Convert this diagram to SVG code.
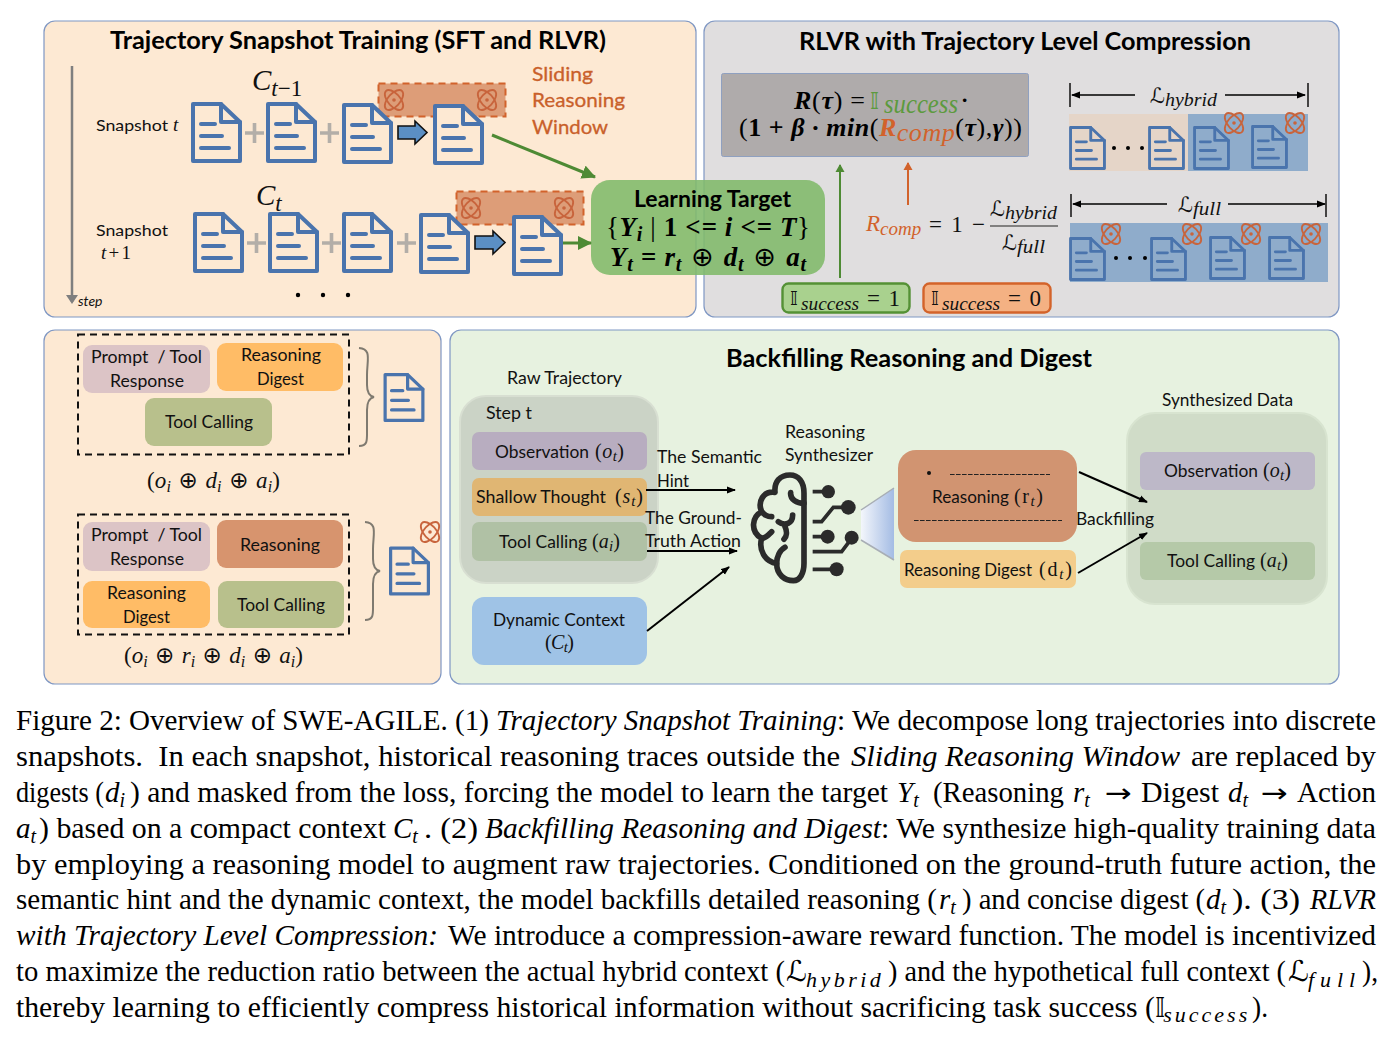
<svg xmlns="http://www.w3.org/2000/svg" width="1395" height="1042" viewBox="0 0 1395 1042">
<style>
text{white-space:pre}
.panel{stroke:#7f97c3;stroke-width:1.2}
.peach{fill:#fde9d3}
.ui{font-family:Lato,"Open Sans",sans-serif;fill:#111;font-size:17.5px}
.title{font-family:Lato,"Open Sans",sans-serif;font-weight:700;fill:#000;font-size:24px}
.m{font-family:"Liberation Serif","DejaVu Serif",serif;font-style:italic;fill:#111}
.mb{font-family:"Liberation Serif","DejaVu Serif",serif;font-style:italic;font-weight:700;fill:#000}
.mr{font-family:"DejaVu Sans",sans-serif;fill:#111}
.up{font-style:normal}
.op{font-family:"DejaVu Sans",sans-serif;font-style:normal;font-weight:400}
.cap{font-family:"Liberation Serif","DejaVu Serif",serif;font-size:29px;fill:#000}
.capi{font-family:"Liberation Serif","DejaVu Serif",serif;font-size:29px;font-style:italic;fill:#000}
.capm{font-family:"DejaVu Sans",sans-serif;font-size:26px;fill:#000}
.caps{font-family:"Liberation Serif",serif;font-size:20px;font-style:italic;fill:#000}
.capl{font-family:"Liberation Serif",serif;font-size:22px;font-style:italic;fill:#000}
.doc{fill:none;stroke:#4a74ad;stroke-width:4;stroke-linejoin:round;stroke-linecap:round}
.blk{stroke:#000;stroke-width:2;fill:none}
.thin{stroke:#000;stroke-width:1.5;fill:none}
.plus{stroke:#b3aea8;stroke-width:3.6}
.atom{fill:none;stroke:#c8643c;stroke-width:2}
.brace{fill:none;stroke:#7f7a70;stroke-width:2}
.block{fill:#5b8fc4;stroke:#111;stroke-width:1.6}
.grn{stroke:#4e8a34;stroke-width:3;fill:none}
.brain{fill:none;stroke:#2b2b2b;stroke-width:17;stroke-linecap:round;stroke-linejoin:round}
</style>
<defs>
<symbol id="doc" viewBox="0 0 51 61" overflow="visible">
<path class="doc" d="M2,2H30L49,20V59H2Z"/>
<path class="doc" d="M30,2V20H49"/>
<path class="doc" d="M10,22H24M10,34H31M10,46H38"/>
</symbol>
<symbol id="docf" viewBox="0 0 51 61" overflow="visible">
<path class="doc" style="fill:#fde9d3" d="M2,2H30L49,20V59H2Z"/>
<path class="doc" d="M30,2V20H49"/>
<path class="doc" d="M10,22H24M10,34H31M10,46H38"/>
</symbol>
<g id="atom">
<g transform="scale(.92,1)">
<ellipse class="atom" rx="12.500" ry="6.500" transform="rotate(45)"/>
<ellipse class="atom" rx="12.500" ry="6.500" transform="rotate(-45)"/>
</g>
<circle r="1.800" fill="#c8643c"/>
</g>
<marker id="ah" markerWidth="10" markerHeight="8" refX="8" refY="4" orient="auto" markerUnits="userSpaceOnUse"><path d="M0,0.500L9,4L0,7.500Z" fill="#000"/></marker>
<marker id="ahg" markerWidth="15" markerHeight="14" refX="13" refY="7" orient="auto" markerUnits="userSpaceOnUse"><path d="M0,0L14,7L0,14Z" fill="#4e8a34"/></marker>
<marker id="ahgs" markerWidth="8" markerHeight="10" refX="7" refY="5" orient="auto" markerUnits="userSpaceOnUse"><path d="M0,0.500L8,5L0,9.500Z" fill="#4e8a34"/></marker>
<marker id="aho" markerWidth="8" markerHeight="10" refX="7" refY="5" orient="auto" markerUnits="userSpaceOnUse"><path d="M0,0.500L8,5L0,9.500Z" fill="#d2622b"/></marker>
<marker id="ahy" markerWidth="9" markerHeight="12" refX="7" refY="6" orient="auto" markerUnits="userSpaceOnUse"><path d="M0,0L9,6L0,12Z" fill="#7f7f7f"/></marker>
<linearGradient id="funnel" x1="0" x2="1" y1="0" y2="0"><stop offset="0" stop-color="#f3f6fb"/><stop offset="1" stop-color="#a4bce4"/></linearGradient>
</defs>

<!-- panels -->
<g id="panel-snapshot"><rect class="panel peach" x="44" y="21" width="652" height="296" rx="11"/>
<text class="title" x="110" y="49" textLength="496" lengthAdjust="spacingAndGlyphs">Trajectory Snapshot Training (SFT and RLVR)</text></g>
<g id="panel-rlvr"><rect class="panel" fill="#e0dedf" x="704" y="21" width="635" height="296" rx="11"/>
<text class="title" x="799" y="50" textLength="452" lengthAdjust="spacingAndGlyphs">RLVR with Trajectory Level Compression</text></g>
<g id="panel-context"><rect class="panel peach" x="44" y="330" width="397" height="354" rx="11"/></g>
<g id="panel-backfill"><rect class="panel" fill="#e7f2e0" x="450" y="330" width="889" height="354" rx="11"/>
<text class="title" x="726" y="367" textLength="366" lengthAdjust="spacingAndGlyphs">Backfilling Reasoning and Digest</text></g>

<!-- snapshot rows -->
<g id="window-t"><rect x="378.500" y="83.500" width="127" height="33" fill="#dd9d78" stroke="#d2622b" stroke-width="2" stroke-dasharray="7 5"/><use href="#atom" x="394" y="100"/><use href="#atom" x="487" y="100"/></g>
<g id="window-t1"><rect x="456.500" y="191.500" width="127" height="33" fill="#dd9d78" stroke="#d2622b" stroke-width="2" stroke-dasharray="7 5"/><use href="#atom" x="471" y="208"/><use href="#atom" x="564" y="208"/></g>
<g id="snapshot-t">
<text class="ui" x="96" y="131" textLength="72" lengthAdjust="spacingAndGlyphs" style="font-size:16px">Snapshot</text><text class="m" x="173" y="131" font-size="19">t</text>
<use href="#doc" x="191" y="102" width="51" height="61"/><use href="#doc" x="266" y="102" width="51" height="61"/><use href="#docf" x="342" y="103" width="51" height="61"/><use href="#docf" x="433" y="104" width="51" height="61"/>
<path class="plus" d="M245,133H264M254.500,123V143M320,133H339M329.500,123V143"/>
<path class="block" d="M398,126H415V121L427,132.500L415,144V139H398Z"/>
<text class="m" x="252" y="90" font-size="29">C<tspan font-size="23" dy="6">t</tspan><tspan class="up" font-size="23">−1</tspan></text>
</g>
<g id="snapshot-t1">
<text class="ui" x="96" y="236" textLength="72" lengthAdjust="spacingAndGlyphs" style="font-size:16px">Snapshot</text><text class="m" x="101" y="259" font-size="19" textLength="30" lengthAdjust="spacing">t<tspan class="up">+1</tspan></text>
<use href="#doc" x="193" y="212" width="51" height="61"/><use href="#doc" x="268" y="212" width="51" height="61"/><use href="#doc" x="342" y="212" width="51" height="61"/><use href="#docf" x="419" y="213" width="51" height="61"/><use href="#docf" x="512" y="215" width="51" height="61"/>
<path class="plus" d="M247,243H266M256.500,233V253M322,243H341M331.500,233V253M397,243H416M406.500,233V253"/>
<path class="block" d="M475,236H493V231L505,242.500L493,254V249H475Z"/>
<text class="m" x="256" y="205" font-size="29">C<tspan font-size="23" dy="6">t</tspan></text>
</g>
<g id="sliding-label" fill="#c9602a" stroke="#c9602a" stroke-width=".3" font-family="Lato,sans-serif" font-size="20"><text x="532" y="81" textLength="61" lengthAdjust="spacingAndGlyphs">Sliding</text><text x="532" y="107" textLength="93" lengthAdjust="spacingAndGlyphs">Reasoning</text><text x="532" y="134" textLength="76" lengthAdjust="spacingAndGlyphs">Window</text></g>
<g id="step-axis"><text x="78" y="306" font-size="14" font-style="italic" font-family="Lato,sans-serif" fill="#111">step</text></g>
<g id="ellipsis-row"><circle cx="298" cy="295" r="2.200"/><circle cx="323" cy="295" r="2.200"/><circle cx="348" cy="295" r="2.200"/></g>

<!-- learning target -->
<g id="learning-target"><rect x="591" y="180" width="234" height="95" rx="19" fill="#80b96a" fill-opacity=".88"/>
<text class="title" x="634" y="207" textLength="157" lengthAdjust="spacingAndGlyphs" style="font-size:22px">Learning Target</text>
<text class="mb" x="606" y="236" font-size="27" textLength="204" lengthAdjust="spacing"><tspan class="up" font-weight="400">{</tspan>Y<tspan font-size="20" dy="5">i</tspan><tspan class="up" font-weight="400" dy="-5"> | </tspan><tspan class="up">1</tspan> &lt;= i &lt;= T<tspan class="up" font-weight="400">}</tspan></text>
<text class="mb" x="610" y="266" font-size="27" textLength="196" lengthAdjust="spacing">Y<tspan font-size="20" dy="5">t</tspan><tspan class="up" dy="-5"> = </tspan>r<tspan font-size="20" dy="5">t</tspan><tspan class="op" dy="-5" font-size="27"> ⊕ </tspan>d<tspan font-size="20" dy="5">t</tspan><tspan class="op" dy="-5" font-size="27"> ⊕ </tspan>a<tspan font-size="20" dy="5">t</tspan></text>
</g>

<!-- reward formula -->
<g id="reward-box"><rect x="721.500" y="73.500" width="307" height="83" rx="2" fill="#afabab" stroke="#8fa0c0"/>
<text class="mb" x="794" y="109" font-size="26" textLength="71" lengthAdjust="spacing">R<tspan class="up" font-weight="400">(</tspan>τ<tspan class="up" font-weight="400">) =</tspan></text>
<text class="op" x="870" y="109" font-size="23" fill="#5c9a3e">𝕀</text>
<text class="m" x="884" y="113" font-size="27" style="fill:#5c9a3e" textLength="74" lengthAdjust="spacingAndGlyphs">success</text>
<text class="mb" x="961" y="107" font-size="22" style="font-style:normal">·</text>
<text class="mb" x="739" y="136" font-size="26" textLength="283" lengthAdjust="spacing"><tspan class="up" font-weight="400">(</tspan><tspan class="up">1 + </tspan>β ·<tspan> min</tspan><tspan class="up" font-weight="400">(</tspan><tspan style="fill:#d2622b">R</tspan><tspan style="fill:#d2622b" font-weight="400" dy="5">comp</tspan><tspan class="up" dy="-5" font-weight="400">(</tspan>τ<tspan class="up" font-weight="400">),</tspan>γ<tspan class="up" font-weight="400">))</tspan></text>
</g>
<g id="ratio-formula">
<text class="m" x="866" y="231" font-size="23" style="fill:#d2622b">R<tspan font-size="19" dy="4">comp</tspan></text>
<text class="m up" x="929" y="232" font-size="23" style="font-style:normal" textLength="56" lengthAdjust="spacing">= 1 −</text>
<path d="M990,226H1058" stroke="#222" stroke-width="1.200"/>
<text class="mr" x="990" y="216" font-size="21">ℒ</text><text class="m" x="1005" y="219" font-size="18" textLength="52" lengthAdjust="spacingAndGlyphs">hybrid</text>
<text class="mr" x="1002" y="250" font-size="21">ℒ</text><text class="m" x="1017" y="253" font-size="18" textLength="28" lengthAdjust="spacingAndGlyphs">full</text>
</g>
<g id="flag-one"><rect x="782.500" y="283.500" width="127" height="29" rx="6" fill="#a9d18e" stroke="#549135" stroke-width="2.400"/>
<text class="mr" x="790" y="305" font-size="20">𝕀</text><text class="m" x="801" y="310" font-size="19" textLength="58" lengthAdjust="spacingAndGlyphs">success</text><text class="m" x="867" y="306" font-size="23" style="font-style:normal" textLength="33" lengthAdjust="spacing">= 1</text></g>
<g id="flag-zero"><rect x="923.500" y="283.500" width="127" height="29" rx="6" fill="#f4b183" stroke="#d3632a" stroke-width="2.400"/>
<text class="mr" x="931" y="305" font-size="20">𝕀</text><text class="m" x="942" y="310" font-size="19" textLength="58" lengthAdjust="spacingAndGlyphs">success</text><text class="m" x="1008" y="306" font-size="23" style="font-style:normal" textLength="33" lengthAdjust="spacing">= 0</text></g>

<!-- compression strips -->
<g id="strip-hybrid"><rect x="1069" y="114" width="119" height="57" fill="#e5d5c8"/><rect x="1188" y="114" width="120" height="57" fill="#8faccb"/>
<use href="#doc" x="1069" y="126" width="37" height="44"/><use href="#doc" x="1148" y="126" width="37" height="44"/><use href="#doc" x="1193" y="126" width="37" height="44"/><use href="#doc" x="1251" y="125" width="37" height="44"/>
<use href="#atom" x="1234" y="123"/><use href="#atom" x="1295" y="123"/>
<circle cx="1114" cy="148" r="2"/><circle cx="1128" cy="148" r="2"/><circle cx="1142" cy="148" r="2"/></g>
<g id="strip-full"><rect x="1070" y="223" width="258" height="59" fill="#8faccb"/>
<use href="#doc" x="1069" y="237" width="37" height="44"/><use href="#doc" x="1150" y="237" width="37" height="44"/><use href="#doc" x="1209" y="236" width="37" height="44"/><use href="#doc" x="1268" y="236" width="37" height="44"/>
<use href="#atom" x="1111" y="234"/><use href="#atom" x="1192" y="234"/><use href="#atom" x="1251" y="234"/><use href="#atom" x="1311" y="234"/>
<circle cx="1116" cy="258" r="2"/><circle cx="1130" cy="258" r="2"/><circle cx="1145" cy="258" r="2"/></g>
<g id="label-hybrid"><text class="mr" x="1150" y="103" font-size="21">ℒ</text><text class="m" x="1165" y="106" font-size="18" textLength="52" lengthAdjust="spacingAndGlyphs">hybrid</text></g>
<g id="label-full"><text class="mr" x="1178" y="212" font-size="21">ℒ</text><text class="m" x="1193" y="215" font-size="18" textLength="28" lengthAdjust="spacingAndGlyphs">full</text></g>

<!-- message layouts -->
<g id="layout-digest" class="ui">
<rect x="78" y="334.500" width="271" height="120" fill="none" stroke="#111" stroke-width="2" stroke-dasharray="7 5"/>
<rect x="83" y="345" width="127" height="48" rx="9" fill="#dcc4c6"/><rect x="217" y="343" width="126" height="48" rx="9" fill="#ffbc66"/><rect x="145" y="398" width="127" height="48" rx="9" fill="#b8c08c"/>
<text x="91" y="363" textLength="111" lengthAdjust="spacingAndGlyphs">Prompt  / Tool</text><text x="110" y="387" textLength="74" lengthAdjust="spacingAndGlyphs">Response</text>
<text x="241" y="361" textLength="80" lengthAdjust="spacingAndGlyphs">Reasoning</text><text x="257" y="385" textLength="47" lengthAdjust="spacingAndGlyphs">Digest</text>
<text x="165" y="428" textLength="88" lengthAdjust="spacingAndGlyphs">Tool Calling</text>
<path class="brace" d="M359,348C372,349 367,360 367,375V385C367,392 369,396 374,397C369,398 367,403 367,410V430C367,440 368,446 359,446"/>
<use href="#doc" x="383" y="373" width="42" height="49"/>
<text class="m" x="147" y="488" font-size="23" textLength="133" lengthAdjust="spacing"><tspan class="up">(</tspan>o<tspan font-size="16" dy="4">i</tspan><tspan class="op" dy="-4" font-size="23"> ⊕ </tspan>d<tspan font-size="16" dy="4">i</tspan><tspan class="op" dy="-4" font-size="23"> ⊕ </tspan>a<tspan font-size="16" dy="4">i</tspan><tspan class="up" dy="-4">)</tspan></text>
</g>
<g id="layout-reasoning" class="ui">
<rect x="78" y="514.500" width="271" height="120" fill="none" stroke="#111" stroke-width="2" stroke-dasharray="7 5"/>
<rect x="83" y="522" width="127" height="49" rx="9" fill="#dcc4c6"/><rect x="217" y="520" width="126" height="48" rx="9" fill="#d7946e"/><rect x="83" y="581" width="127" height="47" rx="9" fill="#ffbc66"/><rect x="218" y="581" width="126" height="47" rx="9" fill="#b8c08c"/>
<text x="91" y="541" textLength="111" lengthAdjust="spacingAndGlyphs">Prompt  / Tool</text><text x="110" y="565" textLength="74" lengthAdjust="spacingAndGlyphs">Response</text>
<text x="240" y="551" textLength="80" lengthAdjust="spacingAndGlyphs">Reasoning</text>
<text x="107" y="599" textLength="79" lengthAdjust="spacingAndGlyphs">Reasoning</text><text x="123" y="623" textLength="47" lengthAdjust="spacingAndGlyphs">Digest</text>
<text x="237" y="611" textLength="88" lengthAdjust="spacingAndGlyphs">Tool Calling</text>
<path class="brace" d="M365,522C378,523 373,534 373,549V559C373,566 375,570 380,571C375,572 373,577 373,584V604C373,614 374,620 365,620"/>
<use href="#doc" x="389" y="546" width="41" height="50"/><use href="#atom" x="430" y="532"/>
<text class="m" x="124" y="663" font-size="23" textLength="179" lengthAdjust="spacing"><tspan class="up">(</tspan>o<tspan font-size="16" dy="4">i</tspan><tspan class="op" dy="-4" font-size="23"> ⊕ </tspan>r<tspan font-size="16" dy="4">i</tspan><tspan class="op" dy="-4" font-size="23"> ⊕ </tspan>d<tspan font-size="16" dy="4">i</tspan><tspan class="op" dy="-4" font-size="23"> ⊕ </tspan>a<tspan font-size="16" dy="4">i</tspan><tspan class="up" dy="-4">)</tspan></text>
</g>

<!-- raw trajectory -->
<g id="raw-trajectory" class="ui">
<text x="507" y="384" textLength="115" lengthAdjust="spacingAndGlyphs">Raw Trajectory</text>
<rect x="460" y="396" width="198" height="187" rx="26" fill="#cbd3c6" stroke="#d8dfd2" stroke-width="2"/>
<text x="486" y="419" textLength="46" lengthAdjust="spacingAndGlyphs">Step t</text>
<rect x="472" y="432" width="175" height="38" rx="7" fill="#b8adc0"/><rect x="472" y="478" width="175" height="38" rx="7" fill="#e0b673"/><rect x="472" y="522" width="175" height="39" rx="7" fill="#b0c1a5"/>
<text x="495" y="458" textLength="94" lengthAdjust="spacingAndGlyphs">Observation</text><text class="m" x="595" y="458" font-size="20" textLength="29" lengthAdjust="spacing"><tspan class="up">(</tspan>o<tspan font-size="15" dy="3">t</tspan><tspan class="up" dy="-3">)</tspan></text>
<text x="476" y="503" textLength="130" lengthAdjust="spacingAndGlyphs">Shallow Thought</text><text class="m" x="615" y="503" font-size="20" textLength="28" lengthAdjust="spacing"><tspan class="up">(</tspan>s<tspan font-size="15" dy="3">t</tspan><tspan class="up" dy="-3">)</tspan></text>
<text x="499" y="548" textLength="88" lengthAdjust="spacingAndGlyphs">Tool Calling</text><text class="m" x="592" y="548" font-size="20" textLength="28" lengthAdjust="spacing"><tspan class="up">(</tspan>a<tspan font-size="15" dy="3">i</tspan><tspan class="up" dy="-3">)</tspan></text>
</g>
<g id="dynamic-context" class="ui"><rect x="472" y="597" width="175" height="68" rx="12" fill="#9fc3e6"/>
<text x="493" y="626" textLength="132" lengthAdjust="spacingAndGlyphs">Dynamic Context</text><text class="m" x="545" y="649" font-size="20" textLength="29" lengthAdjust="spacing"><tspan class="up">(</tspan>C<tspan font-size="15" dy="3">t</tspan><tspan class="up" dy="-3">)</tspan></text></g>

<!-- reasoning synthesizer -->
<g id="synthesizer" class="ui">
<text x="785" y="438" textLength="80" lengthAdjust="spacingAndGlyphs">Reasoning</text><text x="785" y="461" textLength="88" lengthAdjust="spacingAndGlyphs">Synthesizer</text>
<g transform="translate(730,460) scale(.3333)">
<path class="brain" d="M222,100C222,65 205,45 180,45C150,45 132,65 135,97C100,92 82,125 95,155C65,170 60,215 95,235C85,270 105,305 140,310C140,345 165,362 190,362C210,362 222,340 222,310Z"/>
<path class="brain" d="M182,98C180,118 200,130 222,130M188,165C188,190 165,200 145,185M165,200C172,215 170,230 162,238M95,155C105,165 110,170 125,170M95,235C108,235 115,225 125,215M140,310C140,290 150,270 165,262"/>
<path fill="none" stroke="#2b2b2b" stroke-width="11" d="M248,95H295M248,185H275L310,142H355M248,230H293M248,275H335L365,235M248,328H320"/>
<circle cx="295" cy="95" r="20" fill="#2b2b2b"/><circle cx="355" cy="142" r="22" fill="#2b2b2b"/><circle cx="293" cy="230" r="21" fill="#2b2b2b"/><circle cx="365" cy="233" r="21" fill="#2b2b2b"/><circle cx="320" cy="328" r="21" fill="#2b2b2b"/>
</g>
<path d="M861,510L894,488V560L861,540Z" fill="url(#funnel)"/>
<path d="M861,510L894,488M861,540L894,560" stroke="#a8aeb5" stroke-width="1.500" fill="none"/>
</g>

<!-- generated reasoning -->
<g id="reasoning-output" class="ui"><rect x="898" y="450" width="179" height="92" rx="18" fill="#d19471"/>
<circle cx="929" cy="473" r="2" fill="#111"/><path d="M950,474.500H1050M914,520.500H1062" stroke="#222" stroke-width="1.200" stroke-dasharray="4.600 1.400" fill="none"/>
<text x="932" y="503" textLength="77" lengthAdjust="spacingAndGlyphs">Reasoning</text><text class="m" x="1014" y="503" font-size="20" textLength="29" lengthAdjust="spacing"><tspan class="up">(r</tspan><tspan font-size="15" dy="3">t</tspan><tspan class="up" dy="-3">)</tspan></text></g>
<g id="digest-output" class="ui"><rect x="900" y="550" width="176" height="38" rx="7" fill="#f3cd8b"/>
<text x="904" y="576" textLength="128" lengthAdjust="spacingAndGlyphs">Reasoning Digest</text><text class="m" x="1039" y="576" font-size="20" textLength="33" lengthAdjust="spacing"><tspan class="up">(d</tspan><tspan font-size="15" dy="3">t</tspan><tspan class="up" dy="-3">)</tspan></text></g>

<!-- synthesized data -->
<g id="synthesized" class="ui"><text x="1162" y="406" textLength="131" lengthAdjust="spacingAndGlyphs">Synthesized Data</text>
<rect x="1127" y="413" width="200" height="191" rx="28" fill="#d0dcc8" stroke="#d8e4d0" stroke-width="2"/>
<rect x="1140" y="452" width="175" height="38" rx="6" fill="#bdb8c8"/><rect x="1140" y="542" width="175" height="38" rx="6" fill="#b5c9a8"/>
<text x="1164" y="477" textLength="94" lengthAdjust="spacingAndGlyphs">Observation</text><text class="m" x="1263" y="477" font-size="20" textLength="28" lengthAdjust="spacing"><tspan class="up">(</tspan>o<tspan font-size="15" dy="3">t</tspan><tspan class="up" dy="-3">)</tspan></text>
<text x="1167" y="567" textLength="88" lengthAdjust="spacingAndGlyphs">Tool Calling</text><text class="m" x="1260" y="567" font-size="20" textLength="28" lengthAdjust="spacing"><tspan class="up">(</tspan>a<tspan font-size="15" dy="3">t</tspan><tspan class="up" dy="-3">)</tspan></text></g>

<!-- labels printed on the connectors -->
<g id="edge-labels" class="ui">
<text x="657" y="463" textLength="105" lengthAdjust="spacingAndGlyphs">The Semantic</text><text x="657" y="487" textLength="32" lengthAdjust="spacingAndGlyphs">Hint</text>
<text x="645" y="524" textLength="97" lengthAdjust="spacingAndGlyphs">The Ground-</text><text x="645" y="547" textLength="96" lengthAdjust="spacingAndGlyphs">Truth Action</text>
<text x="1076" y="525" textLength="78" lengthAdjust="spacingAndGlyphs">Backfilling</text>
</g>

<!-- connectors -->
<g id="connectors">
<path d="M72,66V302" stroke="#7f7f7f" stroke-width="2.500" fill="none" marker-end="url(#ahy)"/>
<path class="grn" d="M492,135L595,177" marker-end="url(#ahg)"/>
<path class="grn" d="M563,243H591" marker-end="url(#ahg)"/>
<path d="M840,278V165" stroke="#4e8a34" stroke-width="2" marker-end="url(#ahgs)" fill="none"/>
<path d="M908,205V163" stroke="#d2622b" stroke-width="2" marker-end="url(#aho)" fill="none"/>
<path d="M1070,83V107M1308,83V107M1071,194V217M1326,194V217" stroke="#111" stroke-width="1.500" fill="none"/>
<path class="thin" d="M1135,95H1072" marker-end="url(#ah)"/>
<path class="thin" d="M1225,95H1305" marker-end="url(#ah)"/>
<path class="thin" d="M1167,204H1073" marker-end="url(#ah)"/>
<path class="thin" d="M1228,204H1325" marker-end="url(#ah)"/>
<path class="blk" d="M646,490H735" marker-end="url(#ah)"/>
<path class="blk" d="M647,551H737" marker-end="url(#ah)"/>
<path class="blk" d="M647,631L729,567" marker-end="url(#ah)"/>
<path class="blk" d="M1079,472L1147,502" marker-end="url(#ah)"/>
<path class="blk" d="M1078,573L1147,533" marker-end="url(#ah)"/>
</g>

<!-- figure caption, set line by line to a fixed measure -->
<g id="caption">
<text class="cap" x="16" y="730" textLength="473" lengthAdjust="spacingAndGlyphs">Figure 2: Overview of SWE-AGILE. (1)</text>
<text class="capi" x="496" y="730" textLength="341" lengthAdjust="spacingAndGlyphs">Trajectory Snapshot Training</text>
<text class="cap" x="837" y="730" textLength="539" lengthAdjust="spacingAndGlyphs">: We decompose long trajectories into discrete</text>
<text class="cap" x="16" y="766" textLength="824" lengthAdjust="spacingAndGlyphs">snapshots.  In each snapshot, historical reasoning traces outside the</text>
<text class="capi" x="851" y="766" textLength="329" lengthAdjust="spacingAndGlyphs">Sliding Reasoning Window</text>
<text class="cap" x="1191" y="766" textLength="185" lengthAdjust="spacingAndGlyphs">are replaced by</text>
<text class="cap" x="16" y="802" textLength="88" lengthAdjust="spacingAndGlyphs">digests (</text>
<text class="capi" x="105" y="802">d<tspan class="caps" dy="5">i</tspan></text>
<text class="cap" x="130" y="802" textLength="758" lengthAdjust="spacingAndGlyphs">) and masked from the loss, forcing the model to learn the target</text>
<text class="capi" x="897" y="802">Y<tspan class="caps" dy="5">t</tspan></text>
<text class="cap" x="933" y="802" textLength="131" lengthAdjust="spacingAndGlyphs">(Reasoning</text>
<text class="capi" x="1073" y="802">r<tspan class="caps" dy="5">t</tspan></text>
<text class="capm" x="1105" y="802" textLength="27" lengthAdjust="spacingAndGlyphs">→</text>
<text class="cap" x="1141" y="802" textLength="78" lengthAdjust="spacingAndGlyphs">Digest</text>
<text class="capi" x="1228" y="802">d<tspan class="caps" dy="5">t</tspan></text>
<text class="capm" x="1261" y="802" textLength="27" lengthAdjust="spacingAndGlyphs">→</text>
<text class="cap" x="1297" y="802" textLength="79" lengthAdjust="spacingAndGlyphs">Action</text>
<text class="capi" x="16" y="838">a<tspan class="caps" dy="5">t</tspan></text>
<text class="cap" x="39" y="838" textLength="347" lengthAdjust="spacingAndGlyphs">) based on a compact context</text>
<text class="capi" x="393" y="838">C<tspan class="caps" dy="5">t</tspan></text>
<text class="cap" x="424" y="838" textLength="54" lengthAdjust="spacingAndGlyphs">. (2)</text>
<text class="capi" x="485" y="838" textLength="396" lengthAdjust="spacingAndGlyphs">Backfilling Reasoning and Digest</text>
<text class="cap" x="881" y="838" textLength="495" lengthAdjust="spacingAndGlyphs">: We synthesize high-quality training data</text>
<text class="cap" x="16" y="874" textLength="1360" lengthAdjust="spacingAndGlyphs">by employing a reasoning model to augment raw trajectories. Conditioned on the ground-truth future action, the</text>
<text class="cap" x="16" y="909" textLength="921" lengthAdjust="spacingAndGlyphs">semantic hint and the dynamic context, the model backfills detailed reasoning (</text>
<text class="capi" x="939" y="909">r<tspan class="caps" dy="5">t</tspan></text>
<text class="cap" x="962" y="909" textLength="243" lengthAdjust="spacingAndGlyphs">) and concise digest (</text>
<text class="capi" x="1206" y="909">d<tspan class="caps" dy="5">t</tspan></text>
<text class="cap" x="1232" y="909" textLength="68" lengthAdjust="spacingAndGlyphs">). (3)</text>
<text class="capi" x="1310" y="909" textLength="66" lengthAdjust="spacingAndGlyphs">RLVR</text>
<text class="capi" x="16" y="945" textLength="422" lengthAdjust="spacingAndGlyphs">with Trajectory Level Compression:</text>
<text class="cap" x="448" y="945" textLength="928" lengthAdjust="spacingAndGlyphs">We introduce a compression-aware reward function. The model is incentivized</text>
<text class="cap" x="16" y="981" textLength="769" lengthAdjust="spacingAndGlyphs">to maximize the reduction ratio between the actual hybrid context (</text>
<text class="capm" x="786" y="981" style="font-size:29px">ℒ<tspan class="capl" dy="6" dx="-1" style="letter-spacing:3.500px">hybrid</tspan></text>
<text class="cap" x="888" y="981" textLength="398" lengthAdjust="spacingAndGlyphs">) and the hypothetical full context (</text>
<text class="capm" x="1288" y="981" style="font-size:29px">ℒ<tspan class="capl" dy="6" dx="-1" style="letter-spacing:6px">full</tspan></text>
<text class="cap" x="1362" y="981" textLength="16" lengthAdjust="spacingAndGlyphs">),</text>
<text class="cap" x="16" y="1017" textLength="1139" lengthAdjust="spacingAndGlyphs">thereby learning to efficiently compress historical information without sacrificing task success (</text>
<text class="capm" x="1155" y="1017">𝕀<tspan class="capl" dy="5" dx="-2" style="letter-spacing:3px">success</tspan></text>
<text class="cap" x="1252" y="1017" textLength="16" lengthAdjust="spacingAndGlyphs">).</text>
</g>
</svg>
